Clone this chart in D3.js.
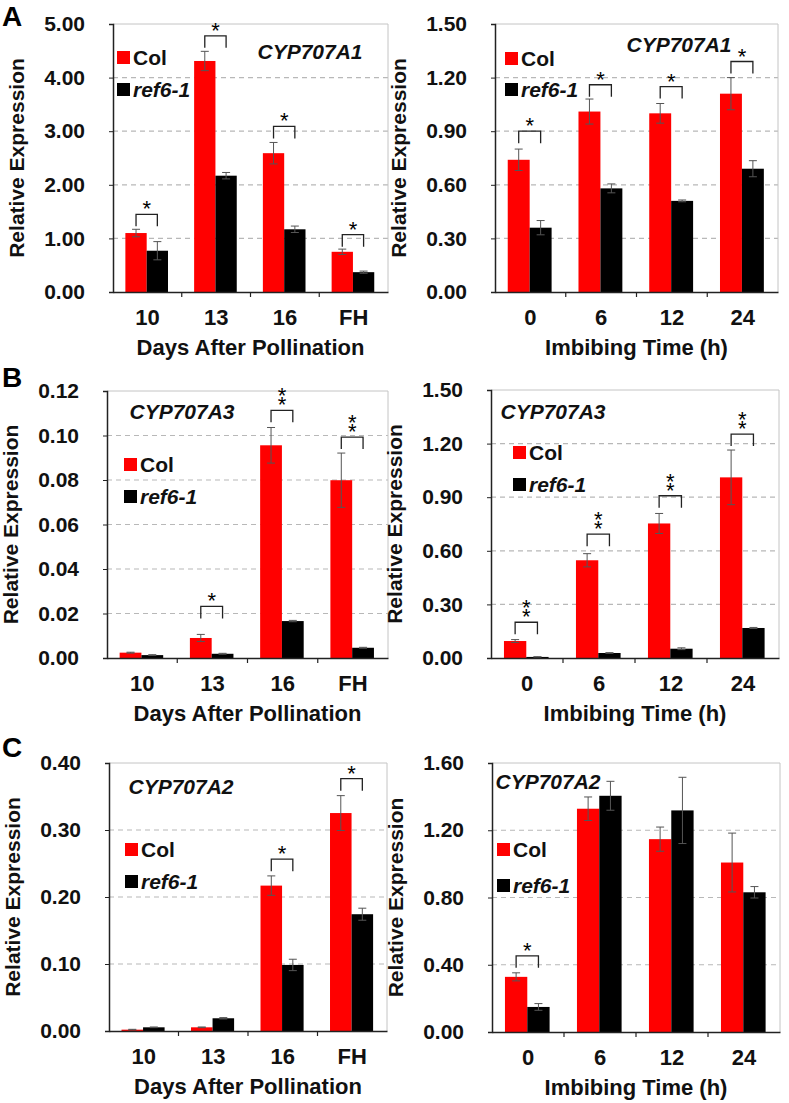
<!DOCTYPE html>
<html>
<head>
<meta charset="utf-8">
<script src="https://cdn.jsdelivr.net/npm/d3@7"></script>
<style>
  body { margin: 0; background: #fff; }
  svg text { font-family: "Liberation Sans", Arial, sans-serif; }
</style>
</head>
<body>
<div id="chart"></div>
<script>
'use strict';

var daysCats = ["10", "13", "16", "FH"];
var hoursCats = ["0", "6", "12", "24"];
var seriesNames = ["Col", "ref6-1"];

// A, days after pollination, CYP707A1
var a1Col = [1.10, 4.31, 2.59, 0.75], a1ColErr = [0.07, 0.18, 0.20, 0.05];
var a1Ref = [0.77, 2.17, 1.17, 0.37], a1RefErr = [0.17, 0.06, 0.06, 0.02];
var a1Sig = ["*", "*", "*", "*"], a1SigAt = [1.45, 4.78, 3.09, 1.07];
var a1Ticks = [0, 1, 2, 3, 4, 5];

// A, imbibing time, CYP707A1
var a2Col = [0.74, 1.01, 1.00, 1.11], a2ColErr = [0.06, 0.07, 0.055, 0.09];
var a2Ref = [0.36, 0.58, 0.51, 0.69], a2RefErr = [0.04, 0.025, 0.005, 0.045];
var a2Sig = ["*", "*", "*", "*"], a2SigAt = [0.90, 1.16, 1.15, 1.29];
var a2Ticks = [0, 0.3, 0.6, 0.9, 1.2, 1.5];

// B, days after pollination, CYP707A3
var b1Col = [0.0024, 0.009, 0.0956, 0.0799], b1ColErr = [0.0002, 0.0016, 0.008, 0.0122];
var b1Ref = [0.0013, 0.0019, 0.0166, 0.0046], b1RefErr = [0.0002, 0.0002, 0.0003, 0.0002];
var b1Sig = ["", "*", "**", "**"], b1SigAt = [0, 0.0232, 0.1113, 0.0993];
var b1Ticks = [0, 0.02, 0.04, 0.06, 0.08, 0.10, 0.12];

// B, imbibing time, CYP707A3
var b2Col = [0.095, 0.547, 0.753, 1.011], b2ColErr = [0.008, 0.037, 0.056, 0.153];
var b2Ref = [0.006, 0.028, 0.052, 0.168], b2RefErr = [0.001, 0.002, 0.005, 0.003];
var b2Sig = ["**", "**", "**", "**"], b2SigAt = [0.20, 0.693, 0.908, 1.2535];
var b2Ticks = [0, 0.3, 0.6, 0.9, 1.2, 1.5];

// C, days after pollination, CYP707A2
var c1Col = [0.002, 0.0055, 0.217, 0.3253], c1ColErr = [0.0005, 0.0005, 0.0145, 0.026];
var c1Ref = [0.0055, 0.019, 0.0986, 0.1743], c1RefErr = [0.0005, 0.001, 0.0085, 0.009];
var c1Sig = ["", "", "*", "*"], c1SigAt = [0, 0, 0.2565, 0.3766];
var c1Ticks = [0, 0.1, 0.2, 0.3, 0.4];

// C, imbibing time, CYP707A2
var c2Col = [0.328, 1.328, 1.147, 1.008], c2ColErr = [0.024, 0.07, 0.072, 0.175];
var c2Ref = [0.149, 1.405, 1.318, 0.831], c2RefErr = [0.02, 0.086, 0.197, 0.034];
var c2Sig = ["*", "", "", ""], c2SigAt = [0.453, 0, 0, 0];
var c2Ticks = [0, 0.4, 0.8, 1.2, 1.6];

var colors = ["#ff0000", "#000000"];

var svg = d3.select("#chart").append("svg")
  .attr("width", 789)
  .attr("height", 1103);

function panel(opt) {
  var g = svg.append("g");

  var yMax = opt.ticks[opt.ticks.length - 1];
  var y = d3.scaleLinear().domain([0, yMax]).range([opt.bottom, opt.top]);
  var x = d3.scaleBand().domain(opt.cats).range([opt.left, opt.right]).padding(0);
  var xs = d3.scaleBand().domain(seriesNames)
    .range([x.bandwidth() * 0.18, x.bandwidth() * 0.80]).padding(0);

  // grid lines
  g.selectAll(".grid")
    .data(opt.ticks.slice(1, -1))
    .enter().append("line")
    .attr("x1", opt.left).attr("x2", opt.right)
    .attr("y1", (d) => y(d)).attr("y2", (d) => y(d))
    .attr("stroke", "#b8b8b8")
    .attr("stroke-width", 1.2)
    .attr("stroke-dasharray", "5,4");

  // frame top / right
  g.append("path")
    .attr("d", "M" + opt.left + "," + opt.top + "H" + opt.right + "V" + opt.bottom)
    .attr("fill", "none")
    .attr("stroke", "#c4c4c4")
    .attr("stroke-width", 1);

  // bars
  var rows = opt.cats.map((c, i) => ({
    cat: c,
    vals: [
      {s: seriesNames[0], v: opt.col[i], e: opt.colErr[i]},
      {s: seriesNames[1], v: opt.ref[i], e: opt.refErr[i]}
    ]
  }));

  var grp = g.selectAll(".grp")
    .data(rows)
    .enter().append("g")
    .attr("transform", (d) => "translate(" + x(d.cat) + ",0)");

  grp.selectAll("rect")
    .data((d) => d.vals)
    .enter().append("rect")
    .attr("x", (d) => xs(d.s))
    .attr("y", (d) => y(d.v))
    .attr("width", xs.bandwidth())
    .attr("height", (d) => opt.bottom - y(d.v))
    .attr("fill", (d, i) => colors[i]);

  // error bars
  var eb = grp.selectAll(".err")
    .data((d) => d.vals)
    .enter().append("g")
    .attr("stroke", "#555")
    .attr("stroke-width", 1);
  eb.append("line")
    .attr("x1", (d) => xs(d.s) + xs.bandwidth() / 2)
    .attr("x2", (d) => xs(d.s) + xs.bandwidth() / 2)
    .attr("y1", (d) => y(Math.max(0, d.v - d.e)))
    .attr("y2", (d) => y(d.v + d.e));
  eb.append("line")
    .attr("x1", (d) => xs(d.s) + xs.bandwidth() / 2 - 4)
    .attr("x2", (d) => xs(d.s) + xs.bandwidth() / 2 + 4)
    .attr("y1", (d) => y(d.v + d.e))
    .attr("y2", (d) => y(d.v + d.e));
  eb.append("line")
    .attr("x1", (d) => xs(d.s) + xs.bandwidth() / 2 - 4)
    .attr("x2", (d) => xs(d.s) + xs.bandwidth() / 2 + 4)
    .attr("y1", (d) => y(Math.max(0, d.v - d.e)))
    .attr("y2", (d) => y(Math.max(0, d.v - d.e)));

  // significance brackets
  var sig = opt.cats.map((c, i) => ({cat: c, s: opt.sig[i], at: opt.sigAt[i]}))
    .filter((d) => d.s !== "");
  var sg = g.selectAll(".sig")
    .data(sig)
    .enter().append("g")
    .attr("transform", (d) => "translate(" + x(d.cat) + "," + y(d.at) + ")");
  var bx0 = xs(seriesNames[0]) + xs.bandwidth() / 2,
    bx1 = xs(seriesNames[1]) + xs.bandwidth() / 2;
  sg.append("path")
    .attr("d", "M" + bx0 + ",12V0H" + bx1 + "V12")
    .attr("fill", "none")
    .attr("stroke", "#222")
    .attr("stroke-width", 1.3);
  // stacked stars as one text element
  var st = sg.append("text")
    .attr("text-anchor", "middle")
    .style("font-size", "22px");
  st.selectAll("tspan")
    .data((d) => d.s.split(""))
    .enter().append("tspan")
    .attr("x", (bx0 + bx1) / 2)
    .attr("y", (d, i) => 2 - i * 9)
    .text((d) => d);

  // y axis
  var yAxis = g.append("g")
    .attr("transform", "translate(" + opt.left + ",0)")
    .call(d3.axisLeft(y).tickValues(opt.ticks).tickFormat(d3.format(".2f")).tickSize(4).tickPadding(24));
  yAxis.select(".domain").attr("stroke", "#222").attr("stroke-width", 1.5);
  yAxis.selectAll(".tick line").attr("stroke", "#222");
  yAxis.selectAll("text")
    .attr("fill", "#111")
    .style("font-size", "21px")
    .style("font-weight", "bold");

  // x axis
  var xAxis = g.append("g")
    .attr("transform", "translate(0," + opt.bottom + ")")
    .call(d3.axisBottom(x).tickSize(0).tickPadding(17));
  xAxis.select(".domain").attr("stroke", "#222").attr("stroke-width", 1.5);
  xAxis.selectAll("text")
    .attr("fill", "#111")
    .style("font-size", "22px")
    .style("font-weight", "bold");
  g.selectAll(".xt")
    .data(opt.cats.slice(1))
    .enter().append("line")
    .attr("x1", (d) => x(d)).attr("x2", (d) => x(d))
    .attr("y1", opt.bottom).attr("y2", opt.bottom + 5)
    .attr("stroke", "#222")
    .attr("stroke-width", 1.2);

  // titles
  g.append("text")
    .attr("x", (opt.left + opt.right) / 2)
    .attr("y", opt.bottom + 63)
    .attr("text-anchor", "middle")
    .attr("fill", "#111")
    .style("font-size", "22px")
    .style("font-weight", "bold")
    .text(opt.xTitle);

  g.append("text")
    .attr("transform", "translate(" + (opt.left - 89) + "," + ((opt.top + opt.bottom) / 2) + ") rotate(-90)")
    .attr("text-anchor", "middle")
    .attr("fill", "#111")
    .style("font-size", "21px")
    .style("font-weight", "bold")
    .text("Relative Expression");

  g.append("text")
    .attr("x", opt.gene[0])
    .attr("y", opt.gene[1])
    .attr("text-anchor", "middle")
    .attr("fill", "#111")
    .style("font-size", "21px")
    .style("font-weight", "bold")
    .style("font-style", "italic")
    .text(opt.geneName);

  // legend
  var lg = g.selectAll(".leg")
    .data(seriesNames)
    .enter().append("g")
    .attr("transform", (d, i) => "translate(" + opt.legend[0] + "," + (opt.legend[1] + i * opt.legend[2]) + ")");
  lg.append("rect")
    .attr("x", 0).attr("y", -13)
    .attr("width", 13).attr("height", 13)
    .attr("fill", (d, i) => colors[i]);
  lg.append("text")
    .attr("x", 16).attr("y", 1)
    .attr("fill", "#111")
    .style("font-size", "21px")
    .style("font-weight", "bold")
    .style("font-style", (d, i) => i ? "italic" : "normal")
    .text((d) => d);

  if (opt.letter) {
    g.append("text")
      .attr("x", 2)
      .attr("y", opt.letter[1])
      .attr("fill", "#000")
      .style("font-size", "28px")
      .style("font-weight", "bold")
      .text(opt.letter[0]);
  }
}

panel({left: 113, right: 388, top: 24, bottom: 292, cats: daysCats, ticks: a1Ticks,
  col: a1Col, colErr: a1ColErr, ref: a1Ref, refErr: a1RefErr, sig: a1Sig, sigAt: a1SigAt,
  xTitle: "Days After Pollination", geneName: "CYP707A1", gene: [310, 59],
  legend: [117, 64, 32], letter: ["A", 26]});

panel({left: 495, right: 778, top: 24, bottom: 292, cats: hoursCats, ticks: a2Ticks,
  col: a2Col, colErr: a2ColErr, ref: a2Ref, refErr: a2RefErr, sig: a2Sig, sigAt: a2SigAt,
  xTitle: "Imbibing Time (h)", geneName: "CYP707A1", gene: [679, 52],
  legend: [505, 65, 31]});

panel({left: 107, right: 388, top: 391, bottom: 658, cats: daysCats, ticks: b1Ticks,
  col: b1Col, colErr: b1ColErr, ref: b1Ref, refErr: b1RefErr, sig: b1Sig, sigAt: b1SigAt,
  xTitle: "Days After Pollination", geneName: "CYP707A3", gene: [182, 419],
  legend: [124, 471, 32], letter: ["B", 387]});

panel({left: 491, right: 779, top: 390, bottom: 658, cats: hoursCats, ticks: b2Ticks,
  col: b2Col, colErr: b2ColErr, ref: b2Ref, refErr: b2RefErr, sig: b2Sig, sigAt: b2SigAt,
  xTitle: "Imbibing Time (h)", geneName: "CYP707A3", gene: [553, 419],
  legend: [513, 459, 32]});

panel({left: 109, right: 387, top: 763, bottom: 1031, cats: daysCats, ticks: c1Ticks,
  col: c1Col, colErr: c1ColErr, ref: c1Ref, refErr: c1RefErr, sig: c1Sig, sigAt: c1SigAt,
  xTitle: "Days After Pollination", geneName: "CYP707A2", gene: [181, 794],
  legend: [125, 856, 32], letter: ["C", 757]});

panel({left: 492, right: 780, top: 763, bottom: 1032, cats: hoursCats, ticks: c2Ticks,
  col: c2Col, colErr: c2ColErr, ref: c2Ref, refErr: c2RefErr, sig: c2Sig, sigAt: c2SigAt,
  xTitle: "Imbibing Time (h)", geneName: "CYP707A2", gene: [548, 789],
  legend: [497, 856, 36]});
</script>
</body>
</html>
